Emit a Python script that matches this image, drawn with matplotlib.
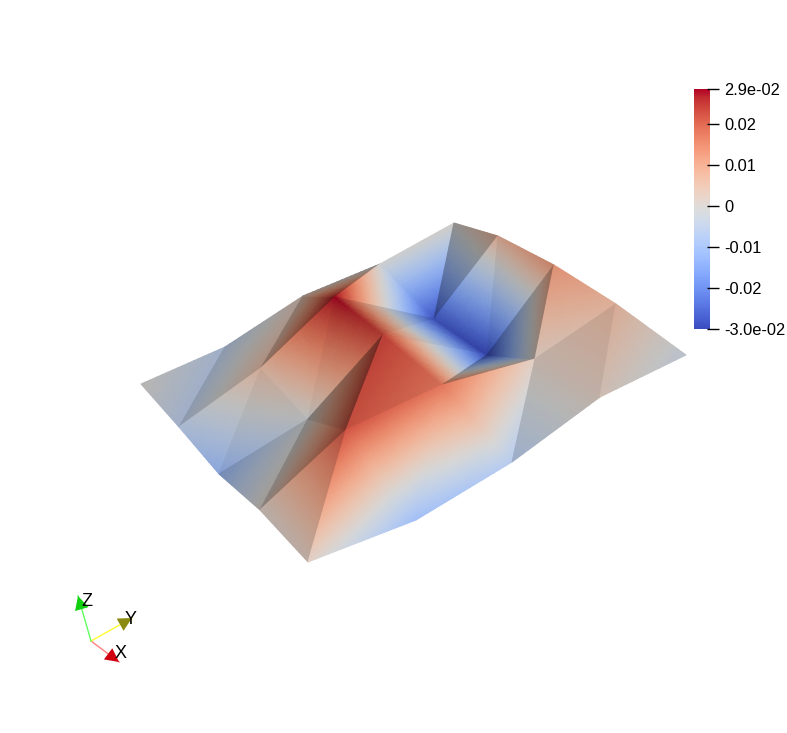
import numpy as np
import matplotlib
matplotlib.use('Agg')
import matplotlib.pyplot as plt
from matplotlib.colors import ListedColormap, Normalize
from matplotlib.cm import ScalarMappable
from matplotlib.tri import Triangulation, UniformTriRefiner, LinearTriInterpolator

# mesh nodes as seen on screen, 5 x 5 grid (pixels)
node_x = [[141, 225, 303, 380, 454],
          [179, 261, 335, 434, 498],
          [219, 308, 383, 487, 554],
          [260, 346, 442, 535, 616],
          [308, 416, 512, 600, 686]]
node_y = [[384, 347, 296, 264, 223],
          [427, 368, 297, 319, 236],
          [474, 419, 335, 355, 265],
          [510, 430, 385, 359, 304],
          [562, 520, 462, 397, 355]]
# scalar at the nodes
node_val = [[0.000, -0.006, 0.003, -0.001, 0.000],
            [-0.006, 0.006, 0.0285, -0.028, 0.008],
            [-0.012, -0.001, 0.024, -0.030, 0.013],
            [0.001, 0.022, 0.018, 0.002, 0.007],
            [0.002, -0.011, -0.007, 0.002, -0.003]]
# lighting per cell: [lower triangle, upper triangle]
cell_shade = [[(0.82, 0.72), (0.72, 0.58), (0.62, 0.95), (0.93, 0.65)],
              [(0.86, 0.82), (0.85, 0.82), (0.82, 0.86), (0.85, 0.80)],
              [(0.72, 0.60), (0.55, 0.90), (0.90, 0.65), (0.62, 0.90)],
              [(0.80, 0.97), (0.97, 0.97), (0.97, 0.82), (0.82, 0.88)]]

val_min = -0.03
val_max = 0.0285
tick_values = [-0.03, -0.02, -0.01, 0, 0.01, 0.02, 0.0285]
tick_labels = ['-3.0e-02', '-0.02', '-0.01', '0', '0.01', '0.02', '2.9e-02']

axis_names = ['X', 'Y', 'Z']
axis_tip_x = [119, 132, 78]
axis_tip_y = [662, 618, 596]
axis_colors = ['#ff8080', '#ffff30', '#60ff60']
cone_colors = ['#d00010', '#8a8a10', '#10d010']
axis_origin = (91, 641)
label_x = [121, 131, 87]
label_y = [653, 620, 601]

plt.rcParams['font.family'] = ['Liberation Sans', 'DejaVu Sans']

W, H = 787, 733
fig = plt.figure(figsize=(W / 100, H / 100), dpi=100)
ax = fig.add_axes([0, 0, 1, 1])
ax.set_xlim(0, W)
ax.set_ylim(H, 0)
ax.axis('off')

X = np.array(node_x, dtype=float)
Y = np.array(node_y, dtype=float)
V = np.array(node_val)
base = plt.get_cmap('coolwarm')(np.linspace(0, 1, 256))[:, :3]


def draw_triangle(ids, shade):
    xs = [X[p] for p in ids]
    ys = [Y[p] for p in ids]
    vs = np.array([V[p] for p in ids])
    tri = Triangulation(xs, ys, [[0, 1, 2]])
    # gouraud blends rgb, so refine to keep the colormap inside the triangle
    fine, fine_v = UniformTriRefiner(tri).refine_field(
        vs, triinterpolator=LinearTriInterpolator(tri, vs), subdiv=4)
    ax.tripcolor(fine, fine_v, shading='gouraud', vmin=val_min, vmax=val_max,
                 cmap=ListedColormap(base * shade))


for i in range(4):
    for j in range(4):
        low, up = cell_shade[i][j]
        draw_triangle([(i, j), (i + 1, j), (i, j + 1)], low)
        draw_triangle([(i + 1, j), (i + 1, j + 1), (i, j + 1)], up)

# scalar bar
cax = fig.add_axes([694 / W, 1 - 329 / H, 16 / W, 240 / H])
cbar = fig.colorbar(ScalarMappable(Normalize(val_min, val_max), 'coolwarm'), cax=cax)
cbar.outline.set_visible(False)
cbar.set_ticks(tick_values)
cbar.set_ticklabels(tick_labels)
cax.tick_params(length=0, pad=10, labelsize=11.8, labelcolor='black')
cax.hlines(tick_values, 13 / 16, 25 / 16, colors='black', linewidth=1,
           transform=cax.get_yaxis_transform(), clip_on=False)

# orientation widget
for name, tx, ty, lc, cc, lx, ly in zip(axis_names, axis_tip_x, axis_tip_y, axis_colors,
                                        cone_colors, label_x, label_y):
    ax.plot([axis_origin[0], tx], [axis_origin[1], ty], color=lc, linewidth=1)
    start = (tx + (axis_origin[0] - tx) * 0.3, ty + (axis_origin[1] - ty) * 0.3)
    ax.annotate('', xy=(tx, ty), xytext=start,
                arrowprops=dict(arrowstyle='-|>,head_length=0.7,head_width=0.36',
                                mutation_scale=14, color=cc, linewidth=0,
                                shrinkA=0, shrinkB=0))
    ax.text(lx, ly, name, fontsize=13, color='black', ha='center', va='center')

plt.savefig('out.png', dpi=100)
